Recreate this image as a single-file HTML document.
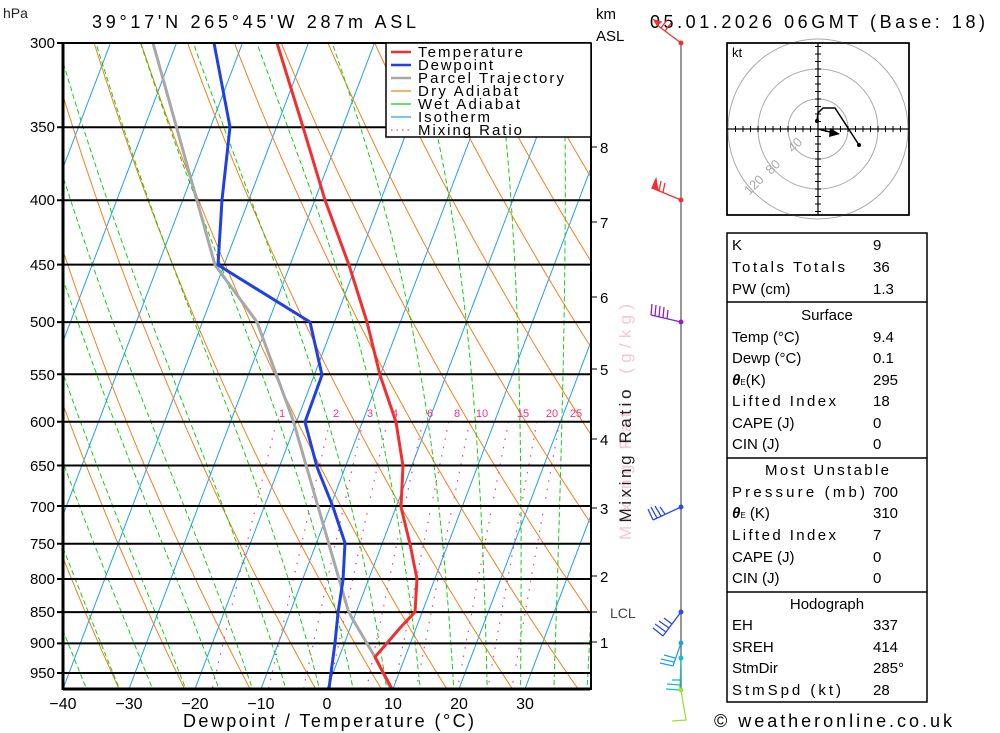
<!DOCTYPE html>
<html><head><meta charset="utf-8"><style>
html,body{margin:0;padding:0;background:#fff;}
svg{display:block;font-family:"Liberation Sans",sans-serif;}
</style></head><body>
<svg id="s" width="1000" height="733" viewBox="0 0 1000 733" xmlns="http://www.w3.org/2000/svg">
<defs><clipPath id="pc"><rect x="63" y="43" width="527" height="646"/></clipPath></defs>
<rect width="1000" height="733" fill="#fff"/>
<g id="grid" clip-path="url(#pc)"></g>
<g id="plines" stroke="#000" stroke-width="2"></g>
<g id="prof" clip-path="url(#pc)" fill="none" stroke-linejoin="round"></g>
<!-- frame -->
<line x1="63" y1="43" x2="63" y2="690" stroke="#000" stroke-width="3"/>
<line x1="63" y1="43" x2="590" y2="43" stroke="#000" stroke-width="2"/>
<line x1="63" y1="689" x2="590" y2="689" stroke="#000" stroke-width="3"/>
<line x1="591" y1="43" x2="591" y2="690" stroke="#000" stroke-width="2"/>
<!-- legend -->
<g>
<rect x="386" y="43" width="205" height="94" fill="#fff" stroke="#000" stroke-width="1.5"/>
<g stroke-width="2.5"><line x1="391" y1="52" x2="411" y2="52" stroke="#f03030"/><line x1="391" y1="65" x2="411" y2="65" stroke="#2040e0"/><line x1="391" y1="78" x2="411" y2="78" stroke="#a8a8a8"/></g>
<g stroke-width="1.2"><line x1="391" y1="91" x2="411" y2="91" stroke="#f08020"/><line x1="391" y1="104" x2="411" y2="104" stroke="#10d010"/><line x1="391" y1="117" x2="411" y2="117" stroke="#20a0f0"/><line x1="391" y1="130" x2="411" y2="130" stroke="#ff3399" stroke-dasharray="1.5,4"/></g>
<g font-size="15" fill="#000">
<text x="418" y="57" textLength="105">Temperature</text>
<text x="418" y="70" textLength="75">Dewpoint</text>
<text x="418" y="83" textLength="146">Parcel Trajectory</text>
<text x="418" y="96" textLength="100">Dry Adiabat</text>
<text x="418" y="109" textLength="102">Wet Adiabat</text>
<text x="418" y="122" textLength="72">Isotherm</text>
<text x="418" y="135" textLength="104">Mixing Ratio</text>
</g></g>
<!-- pressure labels -->
<g font-size="15" text-anchor="end" fill="#000">
<text x="55" y="48">300</text><text x="55" y="132">350</text><text x="55" y="205">400</text><text x="55" y="270">450</text><text x="55" y="327">500</text><text x="55" y="380">550</text><text x="55" y="427">600</text><text x="55" y="471">650</text><text x="55" y="512">700</text><text x="55" y="549">750</text><text x="55" y="584">800</text><text x="55" y="617">850</text><text x="55" y="648">900</text><text x="55" y="678">950</text>
</g>
<text x="3" y="18" font-size="14" fill="#222">hPa</text>
<text x="92" y="28" font-size="18" textLength="324" fill="#000">39°17'N 265°45'W 287m ASL</text>
<text x="650" y="28" font-size="18" textLength="335" fill="#000">05.01.2026 06GMT (Base: 18)</text>
<text x="596" y="19" font-size="15" fill="#000">km</text>
<text x="596" y="41" font-size="15" fill="#000">ASL</text>
<!-- bottom axis -->
<g font-size="16" text-anchor="middle" fill="#000">
<text x="63" y="709">−40</text><text x="129" y="709">−30</text><text x="195" y="709">−20</text><text x="261" y="709">−10</text><text x="327" y="709">0</text><text x="393" y="709">10</text><text x="459" y="709">20</text><text x="525" y="709">30</text>
</g>
<text x="183" y="727" font-size="18" textLength="291" fill="#000">Dewpoint / Temperature (°C)</text>
<!-- km axis -->
<g stroke="#000" stroke-width="1"><line x1="591" y1="147" x2="597" y2="147"/><line x1="591" y1="222" x2="597" y2="222"/><line x1="591" y1="297" x2="597" y2="297"/><line x1="591" y1="369" x2="597" y2="369"/><line x1="591" y1="439" x2="597" y2="439"/><line x1="591" y1="508" x2="597" y2="508"/><line x1="591" y1="576" x2="597" y2="576"/><line x1="591" y1="612" x2="597" y2="612"/><line x1="591" y1="642" x2="597" y2="642"/></g>
<g font-size="15" fill="#000"><text x="600" y="153">8</text><text x="600" y="228">7</text><text x="600" y="303">6</text><text x="600" y="375">5</text><text x="600" y="445">4</text><text x="600" y="514">3</text><text x="600" y="582">2</text><text x="600" y="648">1</text><text x="610" y="618" font-size="14" fill="#444">LCL</text></g>
<text transform="translate(631,422) rotate(-90)" font-size="17" text-anchor="middle" fill="#f7c4da" textLength="236">Mixing Ratio (g/kg)</text>
<text transform="translate(631,456) rotate(-90)" font-size="17" text-anchor="middle" fill="#222" textLength="133">Mixing Ratio</text>
<!-- mixing ratio labels -->
<g font-size="11" fill="#ff2a8a" text-anchor="middle">
<text x="282" y="417">1</text><text x="336" y="417">2</text><text x="370" y="417">3</text><text x="395" y="417">4</text><text x="430" y="417">6</text><text x="457" y="417">8</text><text x="482" y="417">10</text><text x="523" y="417">15</text><text x="552" y="417">20</text><text x="576" y="417">25</text>
</g>
<!-- wind barb staff -->
<line x1="681" y1="43" x2="681" y2="690" stroke="#555" stroke-width="1.2"/>
<g fill="none" stroke-width="1.3">
<g stroke="#f03030"><polyline points="681,43 657,25"/><polygon points="657,25 654,20 661,22" fill="#f03030"/><line x1="661" y1="28" x2="667" y2="20"/><line x1="665" y1="31" x2="671" y2="23"/><circle cx="681" cy="43" r="1.8" fill="#f03030"/>
<polyline points="681,200 652,188"/><polygon points="652,188 656,179 658,190" fill="#f03030"/><line x1="659" y1="191" x2="661" y2="181"/><line x1="663" y1="192" x2="665" y2="183"/><circle cx="681" cy="200" r="1.8" fill="#f03030"/></g>
<g stroke="#9020c0"><polyline points="681,322 651,315"/><line x1="651" y1="315" x2="652" y2="304"/><line x1="655" y1="316" x2="656" y2="305"/><line x1="659" y1="317" x2="660" y2="306"/><line x1="663" y1="318" x2="664" y2="307"/><line x1="667" y1="319" x2="668" y2="310"/><circle cx="681" cy="322" r="1.8" fill="#9020c0"/></g>
<g stroke="#2848f0"><polyline points="681,507 653,520"/><line x1="653" y1="520" x2="648" y2="509"/><line x1="657" y1="518" x2="651" y2="507"/><line x1="661" y1="516" x2="655" y2="506"/><line x1="665" y1="514" x2="660" y2="507"/><circle cx="681" cy="507" r="1.8" fill="#2848f0"/>
<polyline points="681,612 663,636"/><line x1="663" y1="636" x2="653" y2="628"/><line x1="666" y1="632" x2="655" y2="624"/><line x1="669" y1="628" x2="659" y2="621"/><line x1="672" y1="624" x2="664" y2="618"/><circle cx="681" cy="612" r="1.8" fill="#2848f0"/></g>
<g stroke="#20a0f0"><polyline points="681,643 673,666"/><line x1="673" y1="666" x2="660" y2="663"/><line x1="674" y1="662" x2="661" y2="659"/><line x1="675" y1="658" x2="664" y2="655"/><circle cx="681" cy="643" r="1.8" fill="#20a0f0"/></g>
<g stroke="#10c0c0"><polyline points="681,658 680,690"/><line x1="680" y1="690" x2="666" y2="689"/><line x1="680" y1="685" x2="667" y2="684"/><line x1="680" y1="680" x2="672" y2="680"/><circle cx="681" cy="658" r="1.8" fill="#10c0c0"/></g>
<g stroke="#a0e030"><polyline points="681,690 686,720 672,721"/><circle cx="681" cy="690" r="1.8" fill="#a0e030"/></g>
</g>
<!-- hodograph -->
<g>
<rect x="727" y="43" width="182" height="172" fill="#fff" stroke="#000" stroke-width="1.5"/>
<g fill="none" stroke="#aaa" stroke-width="1"><circle cx="818" cy="129" r="30"/><circle cx="818" cy="129" r="60"/><circle cx="818" cy="129" r="90"/></g>
<rect x="727" y="43" width="182" height="172" fill="none" stroke="#000" stroke-width="1.5"/>
<line x1="818" y1="43" x2="818" y2="215" stroke="#000" stroke-width="1.2"/>
<line x1="727" y1="129" x2="909" y2="129" stroke="#000" stroke-width="1.2"/>
<g id="hticks" stroke="#000" stroke-width="1"></g>
<text x="732" y="57" font-size="13" fill="#000">kt</text>
<g font-size="13" fill="#aaa" text-anchor="middle"><text transform="translate(798,148) rotate(-45)">40</text><text transform="translate(776,170) rotate(-45)">80</text><text transform="translate(757,188) rotate(-45)">120</text></g>
<polyline points="817,121 818,113 823,108 835,108 848,128 859,145" fill="none" stroke="#000" stroke-width="1.5"/>
<circle cx="817" cy="121" r="2" fill="#000"/><circle cx="859" cy="145" r="2" fill="#000"/>
<line x1="818" y1="129" x2="834" y2="133" stroke="#000" stroke-width="1.5"/>
<polygon points="830,128 840,134 829,137" fill="#000"/>
</g>
<!-- table -->
<g>
<rect x="727" y="233" width="200" height="469" fill="#fff" stroke="#000" stroke-width="1.5"/>
<g stroke="#000" stroke-width="1.5"><line x1="727" y1="302" x2="927" y2="302"/><line x1="727" y1="458" x2="927" y2="458"/><line x1="727" y1="592" x2="927" y2="592"/></g>
<g font-size="15" fill="#000">
<text x="732" y="250">K</text><text x="873" y="250">9</text>
<text x="732" y="272" textLength="113">Totals Totals</text><text x="873" y="272">36</text>
<text x="732" y="294">PW (cm)</text><text x="873" y="294">1.3</text>
<text x="827" y="320" text-anchor="middle">Surface</text>
<text x="732" y="342">Temp (°C)</text><text x="873" y="342">9.4</text>
<text x="732" y="363">Dewp (°C)</text><text x="873" y="363">0.1</text>
<text x="732" y="385"><tspan font-style="italic" font-weight="bold">θ</tspan><tspan font-size="8">E</tspan>(K)</text><text x="873" y="385">295</text>
<text x="732" y="406" textLength="104">Lifted Index</text><text x="873" y="406">18</text>
<text x="732" y="428">CAPE (J)</text><text x="873" y="428">0</text>
<text x="732" y="449">CIN (J)</text><text x="873" y="449">0</text>
<text x="827" y="475" text-anchor="middle" textLength="124">Most Unstable</text>
<text x="732" y="497" textLength="133">Pressure (mb)</text><text x="873" y="497">700</text>
<text x="732" y="518"><tspan font-style="italic" font-weight="bold">θ</tspan><tspan font-size="8">E</tspan> (K)</text><text x="873" y="518">310</text>
<text x="732" y="540" textLength="104">Lifted Index</text><text x="873" y="540">7</text>
<text x="732" y="562">CAPE (J)</text><text x="873" y="562">0</text>
<text x="732" y="583">CIN (J)</text><text x="873" y="583">0</text>
<text x="827" y="609" text-anchor="middle">Hodograph</text>
<text x="732" y="630">EH</text><text x="873" y="630">337</text>
<text x="732" y="652">SREH</text><text x="873" y="652">414</text>
<text x="732" y="673">StmDir</text><text x="873" y="673">285°</text>
<text x="732" y="695" textLength="109">StmSpd (kt)</text><text x="873" y="695">28</text>
</g></g>
<text x="714" y="727" font-size="18" fill="#000" textLength="238">© weatheronline.co.uk</text>
</svg>
<script>
(function(){
var NS="http://www.w3.org/2000/svg";
function Y(p){return 43+546.5*Math.log(p/300);}
function X(T,p){return 63+(T+40)*6.6+0.38*(689-Y(p));}
function pl(g,pts,attrs){var e=document.createElementNS(NS,"polyline");e.setAttribute("points",pts.map(function(a){return a[0].toFixed(1)+","+a[1].toFixed(1)}).join(" "));e.setAttribute("fill","none");for(var k in attrs)e.setAttribute(k,attrs[k]);g.appendChild(e);}
var g=document.getElementById("grid");
// isotherms
for(var T=-120;T<=50;T+=10){pl(g,[[X(T,980),Y(980)],[X(T,290),Y(290)]],{stroke:"#20a0f0","stroke-width":"1"});}
// dry adiabats
for(var th=-50;th<=220;th+=10){var pts=[];for(var p=1000;p>=290;p-=10){var Tk=(th+273.15)*Math.pow(p/1000,0.286);pts.push([X(Tk-273.15,p),Y(p)]);}pl(g,pts,{stroke:"#f08020","stroke-width":"1"});}
// wet adiabats
function es(Tc){return 6.112*Math.exp(17.67*Tc/(Tc+243.5));}
for(var tw=-45;tw<=45;tw+=5){var Tk=tw+273.15,pts=[];for(var p=1000;p>=290;p-=2){var Tc=Tk-273.15;pts.push([X(Tc,p),Y(p)]);var e=es(Tc),rs=0.622*e/(p-e);var num=287*Tk+2.5e6*rs,den=1005+2.5e6*2.5e6*rs*0.622/(287*Tk*Tk);Tk+= (num/den)/p*(-2);}pl(g,pts,{stroke:"#10d010","stroke-width":"1","stroke-dasharray":"5,3"});}
// mixing ratio
[1,2,3,4,6,8,10,15,20,25].forEach(function(w){var pts=[];for(var p=600;p<=990;p+=10){var e=w*p/(622+w);var L=Math.log(e/6.112);var Td=243.5*L/(17.67-L);pts.push([X(Td,p),Y(p)]);}pl(g,pts,{stroke:"#ff3399","stroke-width":"1.2","stroke-dasharray":"1.5,7"});});
// pressure lines
var pg=document.getElementById("plines");
[300,350,400,450,500,550,600,650,700,750,800,850,900,950].forEach(function(p){var y=Y(p);var l=document.createElementNS(NS,"line");l.setAttribute("x1",57);l.setAttribute("x2",591);l.setAttribute("y1",y);l.setAttribute("y2",y);pg.appendChild(l);});
// profiles
var pr=document.getElementById("prof");
pl(pr,[[153,43],[215,265],[257,322],[293,420],[348,610],[352,618],[375,657],[391,689]],{stroke:"#a8a8a8","stroke-width":"3"});
pl(pr,[[214,43],[230,127],[222,200],[218,265],[310,322],[322,375],[305,422],[317,467],[333,507],[345,543],[343,580],[338,613],[335,643],[331,673],[329,689]],{stroke:"#2040e0","stroke-width":"3"});
pl(pr,[[277,43],[303,127],[325,200],[349,265],[367,322],[380,375],[396,422],[403,466],[401,507],[410,544],[417,579],[415,612],[400,628],[375,657],[392,689]],{stroke:"#f03030","stroke-width":"3"});
// hodo ticks
var ht=document.getElementById("hticks");
for(var i=-11;i<=11;i++){if(i==0)continue;var d=i*7.5;var a=document.createElementNS(NS,"line");a.setAttribute("x1",815);a.setAttribute("x2",821);a.setAttribute("y1",129+d);a.setAttribute("y2",129+d);ht.appendChild(a);var b=document.createElementNS(NS,"line");b.setAttribute("y1",126);b.setAttribute("y2",132);b.setAttribute("x1",818+d);b.setAttribute("x2",818+d);ht.appendChild(b);}
})();
</script>
</body></html>
